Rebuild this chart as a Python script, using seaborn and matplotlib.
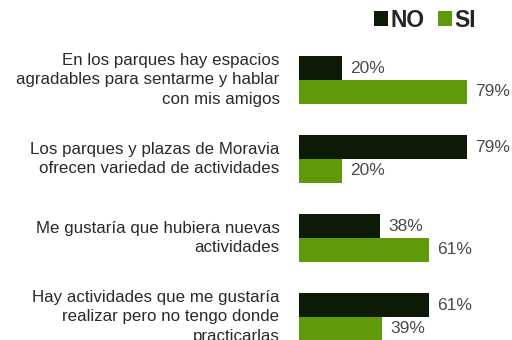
import matplotlib
matplotlib.use("Agg")
import matplotlib.pyplot as plt
import matplotlib.transforms as mtransforms
import seaborn as sns
import pandas as pd

statements = [
    "En los parques hay espacios\nagradables para sentarme y hablar\ncon mis amigos",
    "Los parques y plazas de Moravia\nofrecen variedad de actividades",
    "Me gustaría que hubiera nuevas\nactividades",
    "Hay actividades que me gustaría\nrealizar pero no tengo donde\npracticarlas",
]
no_values = [20, 79, 38, 61]
si_values = [79, 20, 61, 39]
answers = ["NO", "SI"]

df = pd.DataFrame({
    "statement": statements * 2,
    "answer": ["NO"] * len(statements) + ["SI"] * len(statements),
    "pct": no_values + si_values,
})

sns.set_theme(style="white")
plt.rcParams["font.family"] = ["Liberation Sans", "DejaVu Sans"]

fig = plt.figure(figsize=(5.12, 3.4), dpi=100)
ax = fig.add_axes([299 / 512, 0, 213 / 512, 300 / 340])

palette = {"NO": "#0d1a05", "SI": "#5e9a0a"}
sns.barplot(data=df, y="statement", x="pct", hue="answer", hue_order=answers,
            order=statements, palette=palette, orient="h", width=0.6,
            saturation=1, linewidth=0, ax=ax, legend=True)

for cont in ax.containers:
    ax.bar_label(cont, fmt="%d%%", padding=6, fontsize=12.5, color="#4a4a4a")

ax.set_xlim(0, 100)
ax.set_ylim(3.29, -0.506)
ax.set_xlabel("")
ax.set_ylabel("")
ax.set_xticks([])
for s in ax.spines.values():
    s.set_visible(False)
ax.tick_params(axis="y", length=0, pad=14, labelsize=12.2, labelcolor="#2a2a2a")
# nudge the statement labels slightly above the bar-pair centre
lift = mtransforms.ScaledTranslation(0, 4 / 100, fig.dpi_scale_trans)
for t in ax.get_yticklabels():
    t.set_linespacing(1.4)
    t.set_horizontalalignment("right")
    t.set_transform(t.get_transform() + lift)

handles, labels = ax.get_legend_handles_labels()
ax.get_legend().remove()
fig.legend(handles, labels, loc="upper right", bbox_to_anchor=(497 / 512, 1.035),
           ncol=2, frameon=False, handlelength=0.6, handleheight=0.6,
           handletextpad=0.12, columnspacing=0.6,
           prop={"weight": "bold", "size": 16.5})

fig.savefig("out.png", dpi=100)
